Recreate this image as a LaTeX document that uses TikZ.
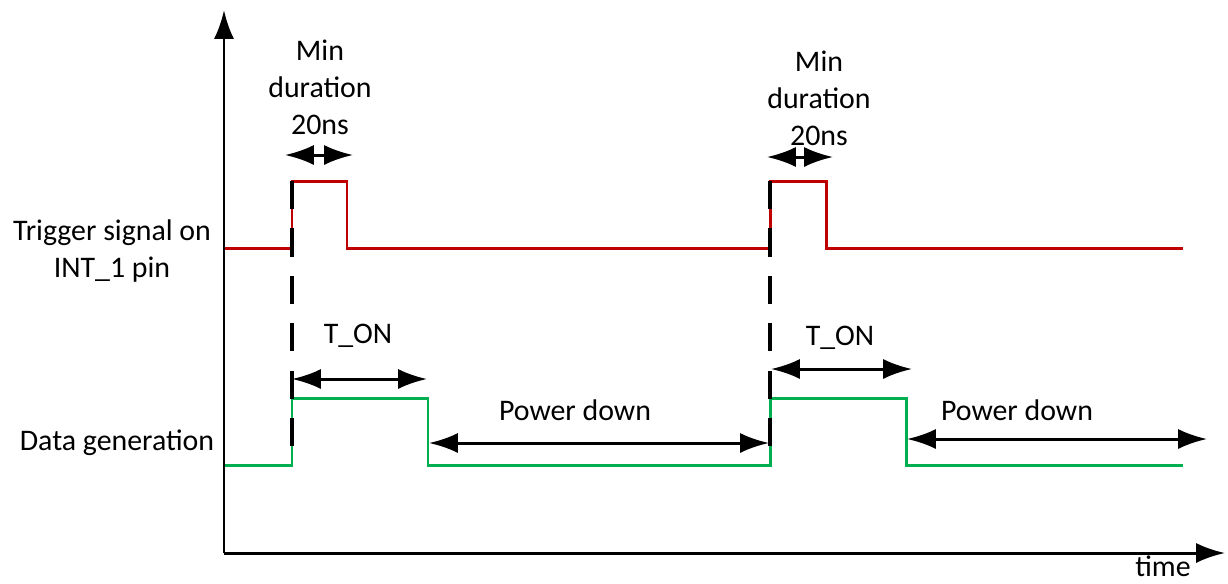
\documentclass[tikz,border=0pt]{standalone}
\usepackage{fontspec}
\setmainfont{Carlito}
\usepackage{tikz}
\usetikzlibrary{arrows.meta,positioning}

\definecolor{trigred}{HTML}{C00000}
\definecolor{datagreen}{HTML}{00B050}

\begin{document}
\begin{tikzpicture}[x=0.02cm,y=-0.02cm,
    font=\fontsize{17}{21}\selectfont,
    wave/.style={line width=1.7pt},
    axis/.style={line width=1.7pt,-{Latex[length=16.5pt,width=11.5pt]}},
    span/.style={line width=1.7pt,{Latex[length=16.5pt,width=11.5pt]}-{Latex[length=16.5pt,width=11.5pt]}},
    edge/.style={line width=1.8pt,dash pattern=on 16pt off 11pt},
    lbl/.style={align=center,inner sep=0pt}]
    \useasboundingbox (0,0) rectangle (1228,583);

    % Trigger signal on INT_1
    \draw[wave, trigred] (224,248) -- (292,248) -- (292,181) -- (347,181) -- (347,248)
        -- (770,248) -- (770,181) -- (826,181) -- (826,248) -- (1183,248);

    % Data generation
    \draw[wave, datagreen] (224,465) -- (292,465) -- (292,398) -- (428,398) -- (428,465)
        -- (770,465) -- (770,398) -- (906,398) -- (906,465) -- (1183,465);

    % Trigger edges
    \coordinate (e1top) at (292,181);
    \coordinate (e1bot) at (292,465);
    \coordinate (e2top) at (770,181);
    \coordinate (e2bot) at (770,465);
    \draw[edge] (e1top) -- (e1bot);
    \draw[edge] (e2top) -- (e2bot);

    % Axes
    \coordinate (origin) at (224,553);
    \coordinate (ytip) at (224,10);
    \coordinate (xtip) at (1225,553);
    \draw[axis] (origin) -- (ytip);
    \draw[axis] (origin) -- (xtip);

    % Signal names
    \node[lbl] (trig) at (112,251) {Trigger signal on\\INT\_1 pin};
    \node[lbl] (data) at (117,443) {Data generation};
    \node[inner sep=0pt] (time) at (1163,566) {time};

    % Min duration
    \node[lbl] (min1) at (320,87) {Min\\duration\\20ns};
    \node[lbl] (min2) at (819,98) {Min\\duration\\20ns};
    \coordinate (m1a) at (285,155);
    \coordinate (m1b) at (353,155);
    \coordinate (m2a) at (767,157);
    \coordinate (m2b) at (833,157);
    \draw[span] (m1a) -- (m1b);
    \draw[span] (m2a) -- (m2b);

    % T_ON
    \node[lbl] (ton1) at (358,336) {T\_ON};
    \node[lbl] (ton2) at (840,338) {T\_ON};
    \coordinate (t1a) at (292,379);
    \coordinate (t1b) at (427,379);
    \coordinate (t2a) at (771,369);
    \coordinate (t2b) at (912,369);
    \draw[span] (t1a) -- (t1b);
    \draw[span] (t2a) -- (t2b);

    % Power down
    \node[lbl] (pd1) at (575,410) {Power down};
    \node[lbl] (pd2) at (1017,410) {Power down};
    \coordinate (p1a) at (429,443);
    \coordinate (p1b) at (769,443);
    \coordinate (p2a) at (907,439);
    \coordinate (p2b) at (1207,439);
    \draw[span] (p1a) -- (p1b);
    \draw[span] (p2a) -- (p2b);

\end{tikzpicture}
\end{document}
